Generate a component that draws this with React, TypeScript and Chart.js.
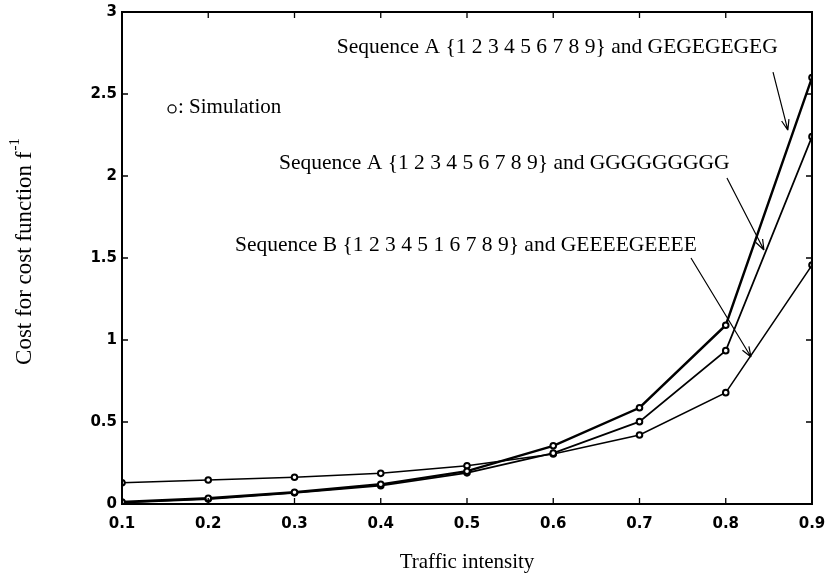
import React, { useEffect, useRef } from "react";
import { Chart, registerables } from "chart.js";

Chart.register(...registerables);

// ---- Data ----
const trafficIntensity = [0.1, 0.2, 0.3, 0.4, 0.5, 0.6, 0.7, 0.8, 0.9];
const seqA_GEGEGEGEG = [0.012, 0.035, 0.072, 0.12, 0.2, 0.355, 0.587, 1.09, 2.6];
const seqA_GGGGGGGGG = [0.008, 0.03, 0.068, 0.112, 0.19, 0.31, 0.502, 0.935, 2.24];
const seqB_GEEEEGEEEE = [0.13, 0.146, 0.163, 0.187, 0.233, 0.305, 0.421, 0.679, 1.457];

const xTickValues = [0.1, 0.2, 0.3, 0.4, 0.5, 0.6, 0.7, 0.8, 0.9];
const yTickValues = [0, 0.5, 1, 1.5, 2, 2.5, 3];

const xTitle = "Traffic intensity";
const yTitle = "Cost for cost function f";
const yTitleSup = "-1";
const legendText = ": Simulation";

// annotation labels: text, left x (data), middle y (data)
const annotationTexts = [
  "Sequence A {1 2 3 4 5 6 7 8 9} and GEGEGEGEG",
  "Sequence A {1 2 3 4 5 6 7 8 9} and GGGGGGGGG",
  "Sequence B {1 2 3 4 5 1 6 7 8 9} and GEEEEGEEEE",
];
const annotationX = [0.349, 0.282, 0.231];
const annotationY = [2.787, 2.079, 1.579];

// arrows: start (x,y) -> tip (x,y) in data coords
const arrowStartX = [0.8548, 0.8014, 0.7597];
const arrowStartY = [2.634, 1.988, 1.5];
const arrowEndX = [0.872, 0.8443, 0.8293];
const arrowEndY = [2.28, 1.549, 0.896];

const legendMarkerX = 0.158;
const legendMarkerY = 2.415;

const SERIF = '"Liberation Serif", "Times New Roman", serif';
const SANS = '"DejaVu Sans", sans-serif';

const decorPlugin = {
  id: "decor",
  afterDraw(chart: any) {
    const ctx = chart.ctx as CanvasRenderingContext2D;
    const xs = chart.scales.x;
    const ys = chart.scales.y;
    const a = chart.chartArea;
    ctx.save();
    ctx.strokeStyle = "#000";
    ctx.fillStyle = "#000";

    // box
    ctx.lineWidth = 2;
    ctx.strokeRect(a.left, a.top, a.right - a.left, a.bottom - a.top);

    // inward ticks
    ctx.lineWidth = 1.3;
    const tl = 6;
    ctx.beginPath();
    xTickValues.forEach((v) => {
      const px = xs.getPixelForValue(v);
      ctx.moveTo(px, a.bottom);
      ctx.lineTo(px, a.bottom - tl);
      ctx.moveTo(px, a.top);
      ctx.lineTo(px, a.top + tl);
    });
    yTickValues.forEach((v) => {
      const py = ys.getPixelForValue(v);
      ctx.moveTo(a.left, py);
      ctx.lineTo(a.left + tl, py);
      ctx.moveTo(a.right, py);
      ctx.lineTo(a.right - tl, py);
    });
    ctx.stroke();

    // annotations
    ctx.font = `21.5px ${SERIF}`;
    ctx.textBaseline = "middle";
    ctx.textAlign = "left";
    annotationTexts.forEach((t, i) => {
      ctx.fillText(t, xs.getPixelForValue(annotationX[i]), ys.getPixelForValue(annotationY[i]));
    });

    // arrows
    ctx.lineWidth = 1.2;
    arrowStartX.forEach((_, i) => {
      const x1 = xs.getPixelForValue(arrowStartX[i]);
      const y1 = ys.getPixelForValue(arrowStartY[i]);
      const x2 = xs.getPixelForValue(arrowEndX[i]);
      const y2 = ys.getPixelForValue(arrowEndY[i]);
      const ang = Math.atan2(y2 - y1, x2 - x1);
      const hl = 11;
      const spread = 0.35;
      ctx.beginPath();
      ctx.moveTo(x1, y1);
      ctx.lineTo(x2, y2);
      ctx.moveTo(x2, y2);
      ctx.lineTo(x2 - hl * Math.cos(ang - spread), y2 - hl * Math.sin(ang - spread));
      ctx.moveTo(x2, y2);
      ctx.lineTo(x2 - hl * Math.cos(ang + spread), y2 - hl * Math.sin(ang + spread));
      ctx.stroke();
    });

    // legend marker + text
    const lx = xs.getPixelForValue(legendMarkerX);
    const ly = ys.getPixelForValue(legendMarkerY);
    ctx.lineWidth = 1.3;
    ctx.beginPath();
    ctx.arc(lx, ly + 1, 4, 0, Math.PI * 2);
    ctx.stroke();
    ctx.font = `21px ${SERIF}`;
    ctx.fillText(legendText, lx + 6, ly);

    // x title
    ctx.textAlign = "center";
    ctx.font = `21px ${SERIF}`;
    ctx.fillText(xTitle, xs.getPixelForValue(0.5), a.bottom + 58);

    // y title (rotated)
    ctx.save();
    ctx.translate(25, 252);
    ctx.rotate(-Math.PI / 2);
    ctx.font = `23px ${SERIF}`;
    const w = ctx.measureText(yTitle).width;
    ctx.font = `15px ${SERIF}`;
    const ws = ctx.measureText(yTitleSup).width;
    const total = w + ws;
    ctx.textAlign = "left";
    ctx.font = `23px ${SERIF}`;
    ctx.fillText(yTitle, -total / 2, 0);
    ctx.font = `15px ${SERIF}`;
    ctx.fillText(yTitleSup, -total / 2 + w + 1, -10);
    ctx.restore();

    ctx.restore();
  },
};

function makeDataset(values: number[], width: number) {
  return {
    data: trafficIntensity.map((x, i) => ({ x, y: values[i] })),
    borderColor: "#000",
    borderWidth: width,
    backgroundColor: "#fff",
    pointBackgroundColor: "#fff",
    pointBorderColor: "#000",
    pointBorderWidth: 2,
    pointRadius: 2.8,
    tension: 0,
    fill: false,
  };
}

export default function App() {
  const canvasRef = useRef<HTMLCanvasElement | null>(null);

  useEffect(() => {
    if (!canvasRef.current) return;
    const chart = new Chart(canvasRef.current, {
      type: "line",
      data: {
        datasets: [
          makeDataset(seqA_GEGEGEGEG, 2.4),
          makeDataset(seqA_GGGGGGGGG, 1.7),
          makeDataset(seqB_GEEEEGEEEE, 1.5),
        ],
      },
      options: {
        responsive: false,
        animation: false,
        layout: { padding: { left: 0, top: 12, right: 13, bottom: 0 } },
        plugins: {
          legend: { display: false },
          tooltip: { enabled: false },
        },
        scales: {
          x: {
            type: "linear",
            min: 0.1,
            max: 0.9,
            afterFit: (s: any) => {
              s.height = 81;
              s.paddingLeft = 0;
              s.paddingRight = 0;
            },
            afterBuildTicks: (s: any) => {
              s.ticks = xTickValues.map((v) => ({ value: v }));
            },
            grid: { display: false, drawTicks: false },
            border: { display: false },
            ticks: {
              padding: 11,
              color: "#000",
              font: { family: SANS, size: 15, weight: "bold" },
              callback: (v: any) => Number(v).toFixed(1),
            },
          },
          y: {
            type: "linear",
            min: 0,
            max: 3,
            afterFit: (s: any) => {
              s.width = 122;
              s.paddingTop = 0;
              s.paddingBottom = 0;
            },
            afterBuildTicks: (s: any) => {
              s.ticks = yTickValues.map((v) => ({ value: v }));
            },
            grid: { display: false, drawTicks: false },
            border: { display: false },
            ticks: {
              padding: 5,
              color: "#000",
              font: { family: SANS, size: 15, weight: "bold" },
              callback: (v: any) => String(v),
            },
          },
        },
      },
      plugins: [decorPlugin],
    } as any);
    return () => chart.destroy();
  }, []);

  return (
    <div style={{ position: "absolute", left: 0, top: 0, width: 825, height: 585, background: "#fff" }}>
      <canvas ref={canvasRef} width={825} height={585} style={{ display: "block" }} />
    </div>
  );
}
